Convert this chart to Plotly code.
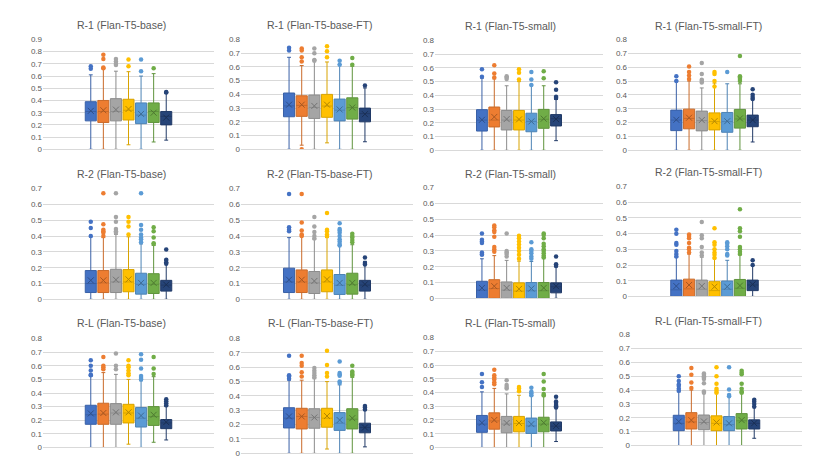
"""Box plots of ROUGE scores for the Flan-T5 variants, redrawn in plotly."""
import plotly.graph_objects as go
from plotly.subplots import make_subplots

PANEL_TITLES = [
    "R-1 (Flan-T5-base)", "R-1 (Flan-T5-base-FT)", "R-1 (Flan-T5-small)", "R-1 (Flan-T5-small-FT)",
    "R-2 (Flan-T5-base)", "R-2 (Flan-T5-base-FT)", "R-2 (Flan-T5-small)", "R-2 (Flan-T5-small-FT)",
    "R-L (Flan-T5-base)", "R-L (Flan-T5-base-FT)", "R-L (Flan-T5-small)", "R-L (Flan-T5-small-FT)",
]
Y_MAX = [0.9, 0.8, 0.8, 0.8, 0.7, 0.7, 0.7, 0.7, 0.8, 0.8, 0.8, 0.8]

# one row per panel, one value per series (7 series)
Q1 = [
    [0.233, 0.22, 0.233, 0.24, 0.21, 0.22, 0.20],
    [0.237, 0.24, 0.225, 0.233, 0.207, 0.22, 0.20],
    [0.14, 0.17, 0.148, 0.148, 0.135, 0.16, 0.177],
    [0.142, 0.155, 0.14, 0.147, 0.13, 0.16, 0.17],
    [0.043, 0.043, 0.043, 0.048, 0.033, 0.037, 0.052],
    [0.043, 0.043, 0.037, 0.048, 0.031, 0.033, 0.052],
    [0.0, 0.0, 0.0, 0.0, 0.0, 0.0, 0.035],
    [0.0, 0.0, 0.0, 0.0, 0.0, 0.0, 0.037],
    [0.17, 0.17, 0.17, 0.18, 0.15, 0.162, 0.138],
    [0.177, 0.17, 0.175, 0.182, 0.16, 0.17, 0.143],
    [0.11, 0.133, 0.107, 0.114, 0.102, 0.114, 0.12],
    [0.107, 0.119, 0.114, 0.107, 0.107, 0.119, 0.119],
]
MEDIAN = [
    [0.31, 0.31, 0.31, 0.32, 0.28, 0.31, 0.27],
    [0.316, 0.32, 0.305, 0.315, 0.285, 0.304, 0.26],
    [0.22, 0.22, 0.22, 0.22, 0.21, 0.226, 0.23],
    [0.218, 0.23, 0.214, 0.207, 0.207, 0.226, 0.218],
    [0.10, 0.104, 0.11, 0.11, 0.095, 0.095, 0.09],
    [0.11, 0.11, 0.104, 0.11, 0.089, 0.093, 0.09],
    [0.052, 0.062, 0.052, 0.046, 0.048, 0.048, 0.073],
    [0.042, 0.048, 0.046, 0.037, 0.046, 0.052, 0.073],
    [0.24, 0.245, 0.253, 0.253, 0.215, 0.227, 0.18],
    [0.245, 0.257, 0.25, 0.245, 0.21, 0.238, 0.18],
    [0.17, 0.193, 0.17, 0.174, 0.157, 0.17, 0.155],
    [0.16, 0.17, 0.166, 0.16, 0.15, 0.178, 0.16],
]
Q3 = [
    [0.39, 0.40, 0.415, 0.41, 0.38, 0.38, 0.31],
    [0.41, 0.39, 0.395, 0.40, 0.366, 0.375, 0.30],
    [0.296, 0.315, 0.29, 0.29, 0.27, 0.298, 0.26],
    [0.29, 0.297, 0.283, 0.27, 0.273, 0.295, 0.254],
    [0.182, 0.182, 0.19, 0.188, 0.165, 0.162, 0.12],
    [0.197, 0.186, 0.176, 0.186, 0.157, 0.165, 0.12],
    [0.108, 0.118, 0.104, 0.098, 0.10, 0.10, 0.098],
    [0.104, 0.11, 0.104, 0.094, 0.098, 0.108, 0.104],
    [0.31, 0.325, 0.322, 0.317, 0.293, 0.30, 0.205],
    [0.318, 0.314, 0.311, 0.314, 0.284, 0.311, 0.21],
    [0.233, 0.252, 0.226, 0.226, 0.214, 0.22, 0.186],
    [0.218, 0.237, 0.22, 0.214, 0.209, 0.23, 0.185],
]
MEAN = [
    [0.315, 0.32, 0.325, 0.33, 0.29, 0.30, 0.26],
    [0.325, 0.325, 0.316, 0.325, 0.29, 0.304, 0.256],
    [0.222, 0.243, 0.227, 0.225, 0.21, 0.23, 0.227],
    [0.22, 0.235, 0.218, 0.21, 0.21, 0.23, 0.218],
    [0.12, 0.12, 0.124, 0.126, 0.104, 0.104, 0.093],
    [0.124, 0.124, 0.116, 0.126, 0.104, 0.104, 0.095],
    [0.066, 0.077, 0.066, 0.06, 0.062, 0.066, 0.077],
    [0.066, 0.073, 0.066, 0.062, 0.062, 0.069, 0.077],
    [0.25, 0.253, 0.258, 0.258, 0.234, 0.24, 0.186],
    [0.257, 0.257, 0.25, 0.26, 0.232, 0.245, 0.18],
    [0.18, 0.20, 0.178, 0.178, 0.17, 0.18, 0.157],
    [0.173, 0.183, 0.173, 0.166, 0.16, 0.183, 0.161],
]
WHISKER_LOW = [
    [0.0, 0.0, 0.0, 0.037, 0.0, 0.06, 0.075],
    [0.0, 0.03, 0.0, 0.047, 0.0, 0.0, 0.055],
    [0.0, 0.0, 0.0, 0.0, 0.0, 0.0, 0.07],
    [0.0, 0.0, 0.0, 0.0, 0.0, 0.0, 0.06],
    [0.0, 0.0, 0.0, 0.0, 0.0, 0.0, 0.0],
    [0.0, 0.0, 0.0, 0.0, 0.0, 0.0, 0.0],
    [0.0, 0.0, 0.0, 0.0, 0.0, 0.0, 0.0],
    [0.0, 0.0, 0.0, 0.0, 0.0, 0.0, 0.0],
    [0.0, 0.0, 0.0, 0.024, 0.0, 0.038, 0.055],
    [0.0, 0.0, 0.0, 0.03, 0.0, 0.0, 0.045],
    [0.0, 0.0, 0.0, 0.0, 0.0, 0.0, 0.043],
    [0.0, 0.0, 0.0, 0.0, 0.0, 0.0, 0.052],
]
WHISKER_HIGH = [
    [0.61, 0.66, 0.64, 0.636, 0.60, 0.62, 0.46],
    [0.67, 0.61, 0.65, 0.636, 0.617, 0.605, 0.447],
    [0.525, 0.52, 0.47, 0.50, 0.475, 0.47, 0.37],
    [0.50, 0.50, 0.45, 0.485, 0.48, 0.48, 0.37],
    [0.395, 0.39, 0.41, 0.395, 0.35, 0.34, 0.245],
    [0.39, 0.40, 0.38, 0.39, 0.34, 0.345, 0.24],
    [0.25, 0.27, 0.24, 0.235, 0.233, 0.25, 0.20],
    [0.25, 0.27, 0.25, 0.245, 0.23, 0.265, 0.197],
    [0.525, 0.55, 0.537, 0.50, 0.49, 0.52, 0.30],
    [0.51, 0.51, 0.52, 0.50, 0.477, 0.53, 0.30],
    [0.405, 0.43, 0.39, 0.38, 0.376, 0.37, 0.29],
    [0.387, 0.40, 0.38, 0.38, 0.363, 0.38, 0.28],
]
OUTLIERS = [
    [[0.68, 0.66], [0.775, 0.74, 0.67, 0.665], [0.74, 0.72, 0.70, 0.69], [0.735, 0.68],
     [0.735, 0.64], [0.665], [0.47, 0.465]],
    [[0.74, 0.72], [0.735, 0.72, 0.67, 0.64, 0.0], [0.735, 0.70, 0.65, 0.645], [0.75, 0.715, 0.67],
     [0.645, 0.615], [0.665, 0.615], [0.465]],
    [[0.59, 0.535], [0.62, 0.56, 0.53], [0.54, 0.53, 0.52], [0.59, 0.565, 0.515],
     [0.57, 0.515, 0.475], [0.575, 0.525], [0.495, 0.44, 0.39, 0.38]],
    [[0.535, 0.50], [0.605, 0.565, 0.54, 0.515], [0.63, 0.55, 0.51, 0.50, 0.49],
     [0.565, 0.55, 0.50, 0.46], [0.565], [0.68, 0.535, 0.525, 0.515, 0.50],
     [0.44, 0.40, 0.385, 0.37]],
    [[0.49, 0.45, 0.40], [0.67, 0.475, 0.44, 0.43, 0.42, 0.40],
     [0.67, 0.52, 0.49, 0.445, 0.43, 0.42], [0.52, 0.49, 0.46, 0.41],
     [0.67, 0.47, 0.44, 0.41, 0.39, 0.38, 0.36], [0.455, 0.43, 0.39, 0.355, 0.35],
     [0.315, 0.25, 0.235, 0.225]],
    [[0.665, 0.455, 0.44, 0.43], [0.665, 0.485, 0.435, 0.41, 0.40],
     [0.52, 0.46, 0.425, 0.40, 0.385], [0.545, 0.44, 0.43, 0.41, 0.40],
     [0.48, 0.445, 0.435, 0.42, 0.40, 0.38, 0.365, 0.35, 0.34],
     [0.415, 0.40, 0.39, 0.375, 0.36], [0.265, 0.23, 0.22]],
    [[0.41, 0.37, 0.36, 0.35, 0.29, 0.28, 0.275],
     [0.46, 0.45, 0.43, 0.42, 0.39, 0.325, 0.31, 0.295],
     [0.41, 0.30, 0.29, 0.28, 0.265],
     [0.395, 0.38, 0.36, 0.34, 0.32, 0.30, 0.275, 0.25],
     [0.355, 0.31, 0.30, 0.285, 0.265, 0.25],
     [0.41, 0.40, 0.38, 0.345, 0.33, 0.31, 0.30, 0.285, 0.27, 0.26],
     [0.265, 0.215, 0.205]],
    [[0.425, 0.40, 0.34, 0.33, 0.29, 0.27, 0.255],
     [0.395, 0.385, 0.37, 0.34, 0.31, 0.30, 0.28],
     [0.475, 0.39, 0.37, 0.315, 0.28, 0.26],
     [0.435, 0.345, 0.33, 0.30, 0.28, 0.265, 0.245],
     [0.345, 0.335, 0.32, 0.30, 0.27, 0.26],
     [0.555, 0.435, 0.415, 0.38, 0.315, 0.30, 0.285, 0.27],
     [0.23, 0.20]],
    [[0.64, 0.60, 0.565, 0.535, 0.53], [0.665, 0.60, 0.59, 0.575], [0.69, 0.60, 0.575],
     [0.64, 0.60, 0.59, 0.565, 0.545, 0.53], [0.685, 0.645, 0.58, 0.525, 0.51, 0.50],
     [0.665, 0.58, 0.54], [0.355, 0.34, 0.325, 0.31]],
    [[0.68, 0.545, 0.535, 0.52], [0.68, 0.63, 0.61, 0.565, 0.535],
     [0.595, 0.575, 0.56, 0.545, 0.53], [0.715, 0.615, 0.56, 0.535],
     [0.64, 0.56, 0.55, 0.54, 0.50, 0.49], [0.61, 0.57, 0.56, 0.55, 0.54],
     [0.33, 0.32, 0.305]],
    [[0.535, 0.475, 0.44], [0.565, 0.525, 0.51, 0.495, 0.475, 0.46], [0.49, 0.455, 0.44, 0.43],
     [0.44, 0.43, 0.41], [0.435, 0.405, 0.395, 0.38], [0.535, 0.48, 0.425, 0.39, 0.38],
     [0.37, 0.335, 0.325, 0.31, 0.30, 0.29]],
    [[0.50, 0.465, 0.44, 0.43, 0.41, 0.395], [0.56, 0.51, 0.455, 0.415],
     [0.52, 0.51, 0.50, 0.49, 0.48, 0.45, 0.39, 0.38],
     [0.565, 0.50, 0.445, 0.41, 0.395, 0.38], [0.565, 0.405, 0.365, 0.355],
     [0.54, 0.525, 0.515, 0.445, 0.41, 0.39, 0.38], [0.33, 0.315, 0.30, 0.28]],
]

SERIES_COLORS = ["#4472C4", "#ED7D31", "#A5A5A5", "#FFC000", "#5B9BD5", "#70AD47", "#264478"]

W, H = 830, 467
# plot areas in pixels: left, right, top, bottom
PLOT_AREAS = [
    (35, 206, 28, 140), (233, 405, 28, 140), (427, 595, 29, 141), (620, 793, 28, 141),
    (35, 206, 180, 293), (233, 405, 180, 293), (427, 595, 179, 292), (620, 793, 178, 290),
    (35, 206, 333, 444), (233, 405, 333, 450), (427, 595, 332, 444), (623, 794, 329, 442),
]
TITLE_POS = [
    (113, 13), (312, 13), (502, 14), (700, 14),
    (113, 165), (312, 165), (502, 165), (700, 163),
    (113, 317), (312, 317), (502, 317), (700, 315),
]
TEXT_COLOR = "#595959"
GRID_COLOR = "#D9D9D9"


def shade(hex_color, factor):
    r, g, b = (int(hex_color[i:i + 2], 16) for i in (1, 3, 5))
    return "rgb({},{},{})".format(int(r * factor), int(g * factor), int(b * factor))


fig = make_subplots(rows=3, cols=4)

for p in range(len(PANEL_TITLES)):
    row, col = p // 4 + 1, p % 4 + 1
    for s, color in enumerate(SERIES_COLORS):
        fig.add_trace(
            go.Box(
                x=[s],
                q1=[Q1[p][s]],
                median=[MEDIAN[p][s]],
                q3=[Q3[p][s]],
                lowerfence=[WHISKER_LOW[p][s]],
                upperfence=[WHISKER_HIGH[p][s]],
                width=0.88,
                whiskerwidth=0.35,
                fillcolor=color,
                line=dict(color=shade(color, 0.85), width=1),
                boxpoints=False,
                showlegend=False,
            ),
            row=row, col=col,
        )
        pts = OUTLIERS[p][s]
        fig.add_trace(
            go.Scatter(
                x=[s] * len(pts),
                y=pts,
                mode="markers",
                marker=dict(color=color, size=4.5),
                showlegend=False,
            ),
            row=row, col=col,
        )
    fig.add_trace(
        go.Scatter(
            x=list(range(len(SERIES_COLORS))),
            y=MEAN[p],
            mode="markers",
            marker=dict(
                symbol="x-thin",
                size=6,
                line=dict(width=1, color=[shade(c, 0.7) for c in SERIES_COLORS]),
            ),
            showlegend=False,
        ),
        row=row, col=col,
    )

    left, right, top, bottom = PLOT_AREAS[p]
    suffix = "" if p == 0 else str(p + 1)
    fig.layout["xaxis" + suffix].update(
        domain=[left / W, right / W],
        range=[-3.8, 9.8],
        showticklabels=False,
        showgrid=False,
        zeroline=False,
        showline=True,
        linecolor=GRID_COLOR,
        linewidth=1,
        ticks="",
    )
    fig.layout["yaxis" + suffix].update(
        domain=[1 - bottom / H, 1 - top / H],
        range=[0, Y_MAX[p]],
        dtick=0.1,
        showgrid=True,
        gridcolor=GRID_COLOR,
        gridwidth=1,
        zeroline=False,
        ticks="",
        tickfont=dict(size=8, color=TEXT_COLOR),
    )
    tx, ty = TITLE_POS[p]
    fig.add_annotation(
        text=PANEL_TITLES[p],
        x=tx / W, y=1 - ty / H,
        xref="paper", yref="paper",
        xanchor="center", yanchor="middle",
        showarrow=False,
        font=dict(size=10.5, color=TEXT_COLOR),
    )

fig.update_layout(
    width=W,
    height=H,
    margin=dict(l=0, r=0, t=0, b=0),
    paper_bgcolor="white",
    plot_bgcolor="white",
    font=dict(family="Liberation Sans, Arial, sans-serif", color=TEXT_COLOR),
    showlegend=False,
)

fig.write_html("out.html")
